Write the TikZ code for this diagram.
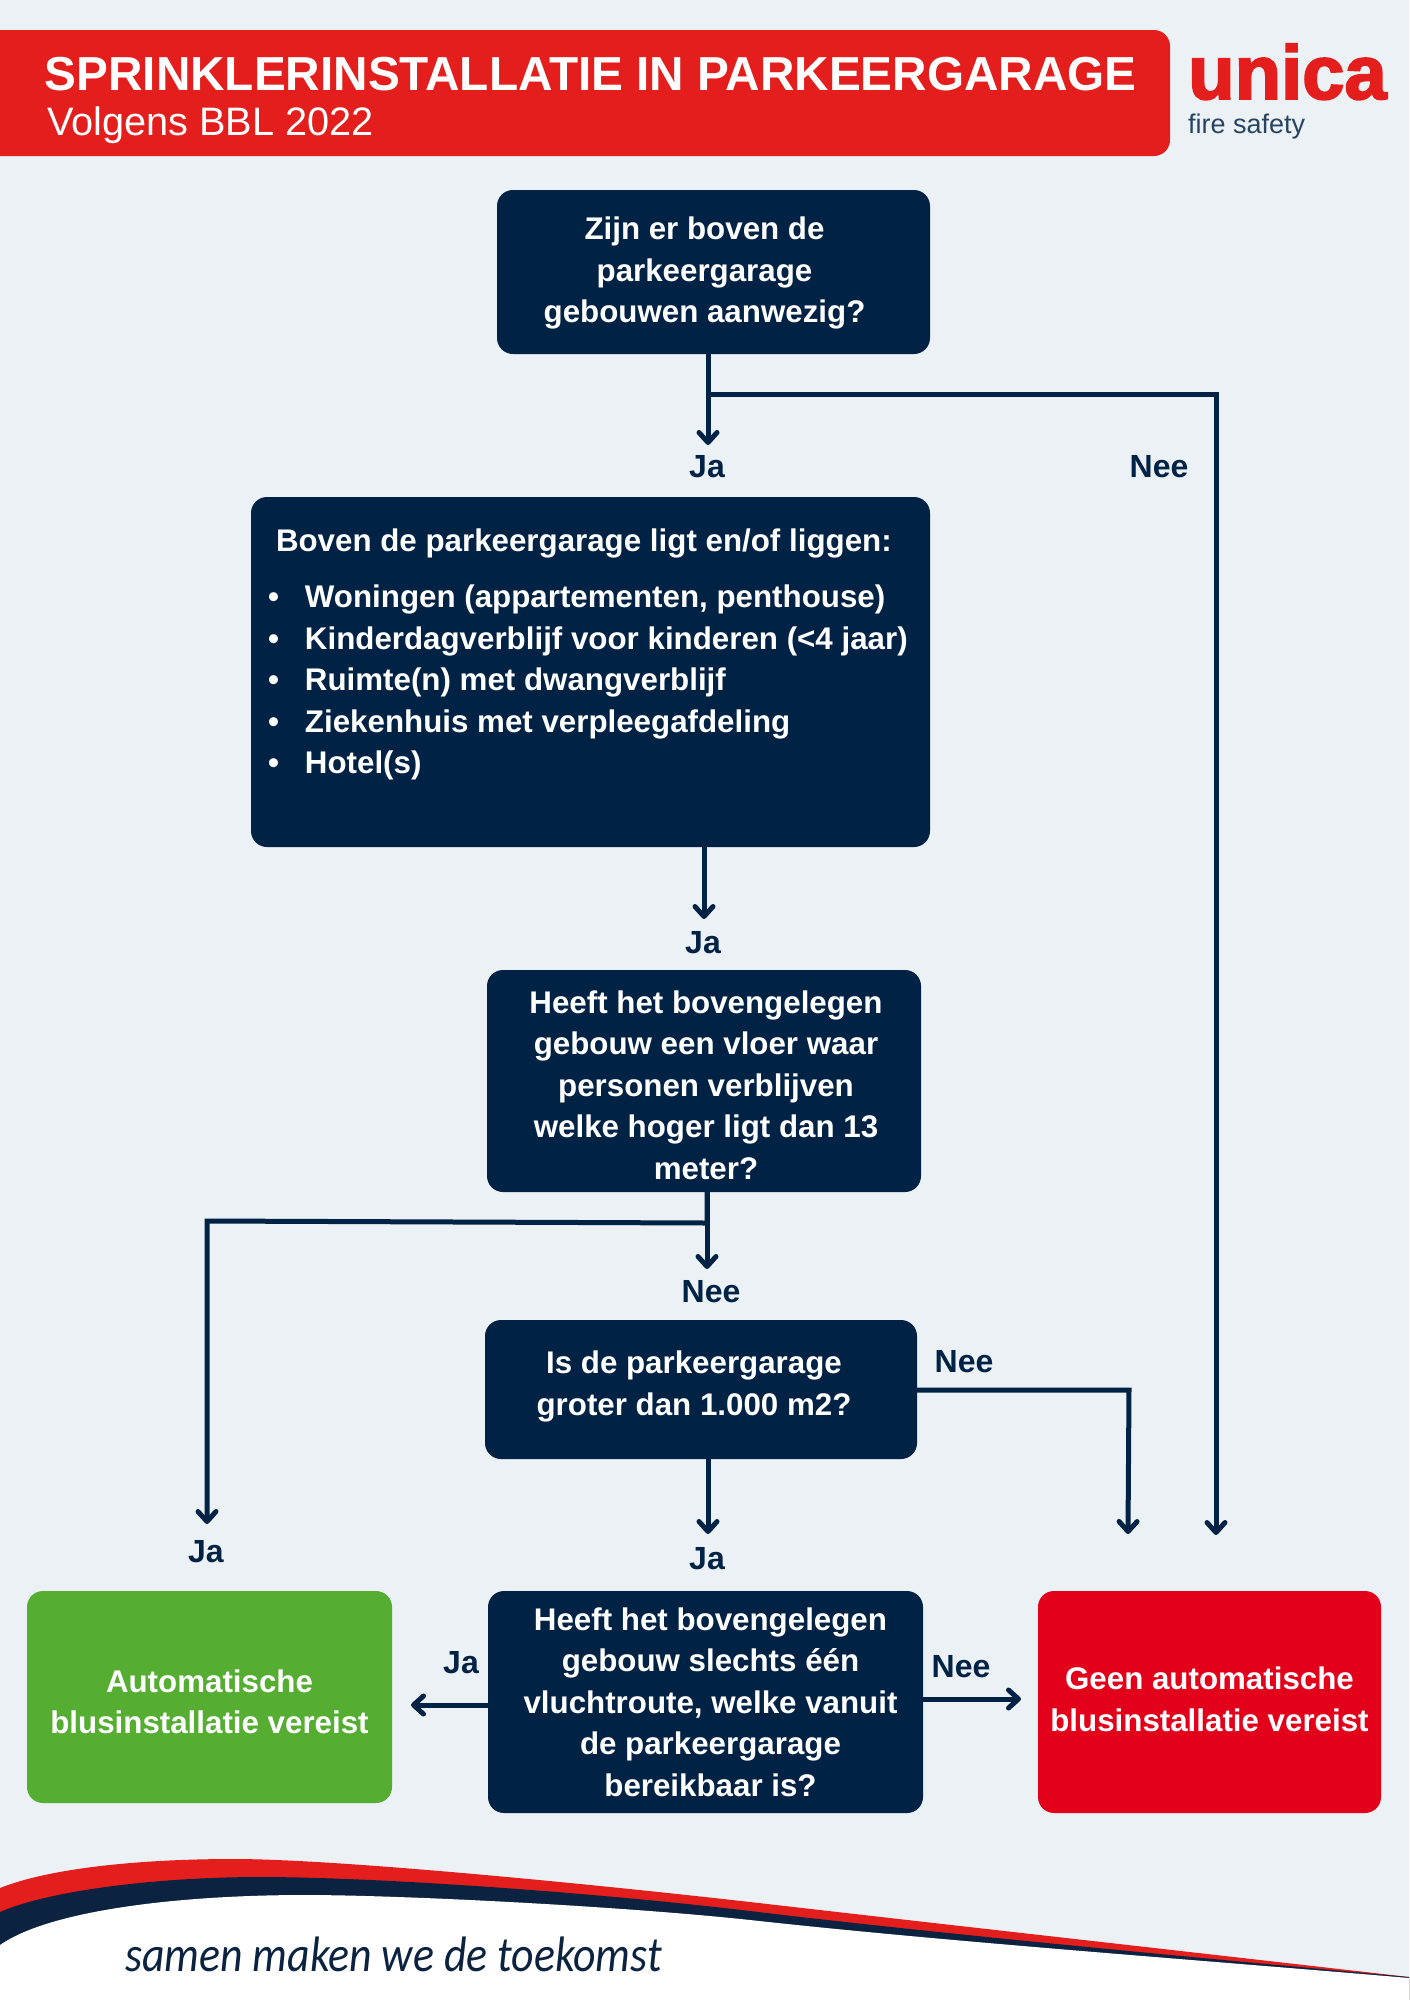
\documentclass[tikz,border=0pt]{standalone}
\usepackage{fontspec}
\setmainfont{Liberation Sans}
\newfontfamily\sloganfont[FakeStretch=0.88]{Carlito}
\newfontfamily\logofont[FakeBold=2.5]{Liberation Sans}
\usetikzlibrary{arrows.meta,positioning}

\definecolor{navy}{HTML}{002345}
\definecolor{swoosh}{HTML}{0B2340}
\definecolor{kleurbg}{HTML}{ECF1F6}
\definecolor{kopred}{HTML}{E31E1C}
\definecolor{geenred}{HTML}{E2001A}
\definecolor{groen}{HTML}{55AE32}

\begin{document}
\begin{tikzpicture}[
    x=1pt, y=-1pt,
    node distance=100pt,
    box/.style={rectangle, rounded corners=16pt, fill=navy, text=white, inner sep=0pt, outer sep=0pt,
        align=flush center, font=\fontsize{31.3}{41.5}\selectfont\bfseries},
    tekstpos/.style 2 args={execute at begin node={\advance\leftskip by #1}, execute at end node={\endgraf\vspace{#2}}},
    antwoord/.style={text=navy, inner sep=0pt, font=\fontsize{32}{38}\selectfont\bfseries},
    arrow/.style={line width=5pt, draw=navy, ->, >={Straight Barb[round,length=10pt,width=18pt]}}
]
\useasboundingbox (0,0) rectangle (1409,2000);
\fill[kleurbg] (0,0) rectangle (1409,2000);

% Header
\fill[kopred] (0,30) [rounded corners=16pt] -- (1170,30) -- (1170,156) [sharp corners] -- (0,156) -- cycle;
\node[anchor=base west, inner sep=0pt, text=white, font=\fontsize{47.7}{48}\selectfont\bfseries] (titel) at (44.5,90) {SPRINKLERINSTALLATIE IN PARKEERGARAGE};
\node[anchor=base west, inner sep=0pt, text=white, font=\fontsize{39.7}{40}\selectfont] (subtitel) at (47,135) {Volgens BBL 2022};
\node[anchor=base west, inner sep=0pt, text=kopred, font=\fontsize{76}{76}\selectfont\logofont\bfseries] (logo) at (1188,99) {unica};
\node[anchor=base west, inner sep=0pt, text=navy!85, font=\fontsize{27}{27}\selectfont] (logosub) at (1188,133) {fire safety};

% Swoosh
\fill[kopred] (0,1888) .. controls (50,1868) and (140,1859) .. (234,1859) .. controls (340,1859) and (600,1885) .. (750,1902) .. controls (950,1925) and (1200,1953) .. (1409,1977) -- (1409,2000) -- (0,2000) -- cycle;
\fill[swoosh] (0,1912) .. controls (50,1890) and (160,1877) .. (260,1877) .. controls (380,1877) and (600,1893) .. (750,1911) .. controls (950,1935) and (1200,1958) .. (1409,1977) -- (1409,2000) -- (0,2000) -- cycle;
\fill[white] (0,1945) .. controls (50,1910) and (180,1895) .. (305,1895) .. controls (400,1895) and (620,1906) .. (750,1920) .. controls (950,1942) and (1200,1960) .. (1409,1978) -- (1409,2000) -- (0,2000) -- cycle;
\node[anchor=base west, inner sep=0pt, text=swoosh, font=\fontsize{49.8}{50}\selectfont\sloganfont\itshape] (slogan) at (125,1971) {samen maken we de toekomst};

% Questions
\node[box, minimum width=433pt, minimum height=164pt, text width=433pt, tekstpos={-18pt}{-2.5pt}] (hasbuilding) at (713.5,272) {Zijn er boven de\\parkeergarage\\gebouwen aanwezig?};
\node[box, minimum width=679pt, minimum height=350pt, text width=649pt, inner xsep=15pt, align=flush left, below=143pt of hasbuilding.south east, anchor=north east] (functions) {\hspace*{10pt}Boven de parkeergarage ligt en/of liggen:\\[15pt]
    \hspace*{2pt}\makebox[37pt][l]{\textbullet}Woningen (appartementen, penthouse)\\
    \hspace*{2pt}\makebox[37pt][l]{\textbullet}Kinderdagverblijf voor kinderen (<4 jaar)\\
    \hspace*{2pt}\makebox[37pt][l]{\textbullet}Ruimte(n) met dwangverblijf\\
    \hspace*{2pt}\makebox[37pt][l]{\textbullet}Ziekenhuis met verpleegafdeling\\
    \hspace*{2pt}\makebox[37pt][l]{\textbullet}Hotel(s)\\
    \mbox{}};
\node[box, minimum width=434pt, minimum height=222pt, text width=434pt, tekstpos={4pt}{-8pt}, below=123pt of functions.south east, anchor=north east, xshift=-9pt] (height) {Heeft het bovengelegen\\gebouw een vloer waar\\personen verblijven\\welke hoger ligt dan 13\\meter?};
\node[box, minimum width=432pt, minimum height=139pt, text width=432pt, tekstpos={-14pt}{6pt}, below=128pt of height, xshift=-3pt] (area) {Is de parkeergarage\\groter dan 1.000 m2?};
\node[box, minimum width=435pt, minimum height=222pt, text width=435pt, tekstpos={10pt}{0pt}, below=132pt of area, xshift=4.5pt] (escape) {Heeft het bovengelegen\\gebouw slechts één\\vluchtroute, welke vanuit\\de parkeergarage\\bereikbaar is?};

% Outcomes
\node[box, fill=groen, minimum width=365pt, minimum height=212pt, text width=365pt, tekstpos={0pt}{-10pt}, left=96pt of escape.north west, anchor=north east] (required) {Automatische\\blusinstallatie vereist};
\node[box, fill=geenred, minimum width=343pt, minimum height=222pt, text width=343pt, tekstpos={0pt}{5pt}, right=115pt of escape.north east, anchor=north west] (notrequired) {Geen automatische\\blusinstallatie vereist};

% Answers
\node[antwoord] (jaone) at (707,467) {Ja};
\node[antwoord] (neeone) at (1159,467) {Nee};
\node[antwoord] (jatwo) at (703,943) {Ja};
\node[antwoord] (neetwo) at (711,1292) {Nee};
\node[antwoord] (jathree) at (206,1552) {Ja};
\node[antwoord] (neethree) at (964,1362) {Nee};
\node[antwoord] (jafour) at (707,1559) {Ja};
\node[antwoord] (jafive) at (461,1663) {Ja};
\node[antwoord] (neefive) at (961,1667) {Nee};

% Arrow ends
\coordinate (tipone) at (708,445);
\coordinate (bendone) at (1216,394);
\coordinate (tiptwo) at (1216,1535);
\coordinate (tipthree) at (704,919);
\coordinate (tipfour) at (707,1269);
\coordinate (branch) at (707,1223);
\coordinate (bendtwo) at (207,1221);
\coordinate (tipfive) at (207,1524);
\coordinate (tipsix) at (708,1534);
\coordinate (bendthree) at (1129,1390);
\coordinate (tipseven) at (1128,1534);
\coordinate (tipeight) at (411,1705);
\coordinate (tipnine) at (1021,1699);

% Arrows
\draw[arrow] (hasbuilding.south -| tipone) -- (tipone);
\draw[arrow] (hasbuilding.south -| tipone) |- (bendone) -- (tiptwo);
\draw[arrow] (functions.south -| tipthree) -- (tipthree);
\draw[arrow] (height.south -| tipfour) -- (tipfour);
\draw[arrow] (height.south -| branch) -- (branch) -- (bendtwo) -- (tipfive);
\draw[arrow] (area.south -| tipsix) -- (tipsix);
\draw[arrow] (area.east |- bendthree) -- (bendthree) -- (tipseven);
\draw[arrow] (escape.west |- tipeight) -- (tipeight);
\draw[arrow] (escape.east |- tipnine) -- (tipnine);
\end{tikzpicture}
\end{document}
